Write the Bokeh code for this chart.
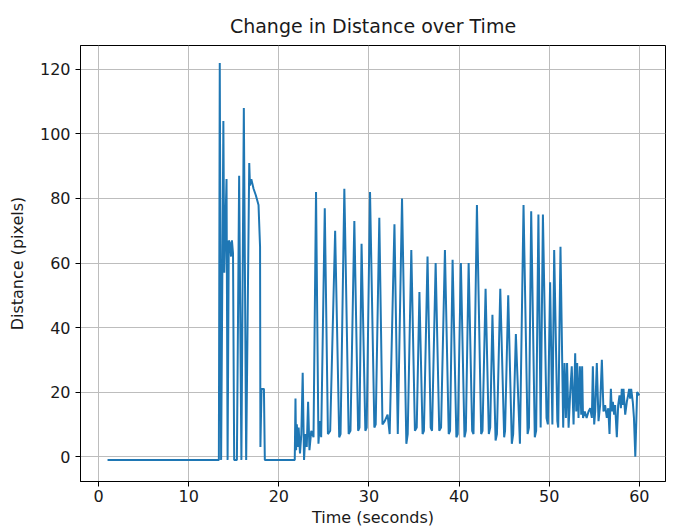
from bokeh.plotting import figure
from bokeh.models import Range1d, FixedTicker
from bokeh.embed import file_html
from bokeh.resources import INLINE

# Frame-to-frame change in tracked distance (pixels) against elapsed time (seconds)
time_s = [
    1.0, 13.35, 13.45, 13.6, 13.85, 13.95, 14.2, 14.32, 14.45, 14.6,
    14.7, 14.8, 14.92, 15.05, 15.35, 15.6, 15.85, 16.12, 16.38, 16.72,
    16.8, 16.95, 17.2, 17.45, 17.75, 17.92, 17.96, 18.08, 18.35, 18.45,
    21.77, 21.85, 21.92, 22.0, 22.1, 22.2, 22.35, 22.5, 22.65, 22.8,
    22.95, 23.1, 23.25, 23.4, 23.6, 23.85, 24.13, 24.4, 24.55, 24.7,
    25.1, 25.45, 25.7, 26.25, 26.7, 26.85, 27.27, 27.35, 27.75, 27.95,
    28.38, 28.8, 28.95, 29.18, 29.6, 29.75, 30.12, 30.6, 30.75, 31.15,
    31.5, 31.75, 32.07, 32.3, 32.83, 33.2, 33.67, 34.15, 34.3, 34.7,
    35.1, 35.3, 35.6, 35.95, 36.1, 36.5, 36.85, 37.0, 37.4, 37.8,
    38.0, 38.43, 38.85, 39.0, 39.28, 39.7, 39.85, 40.2, 40.6, 40.75,
    41.06, 41.45, 41.6, 41.98, 42.45, 42.6, 42.94, 43.3, 43.45, 43.7,
    44.05, 44.2, 44.57, 45.0, 45.1, 45.45, 45.85, 46.0, 46.3, 46.75,
    47.15, 47.6, 47.75, 48.0, 48.4, 48.55, 48.8, 49.05, 49.3, 49.7,
    49.85, 50.1, 50.35, 50.55, 50.9, 51.0, 51.25, 51.55, 51.7, 51.85,
    51.98, 52.15, 52.33, 52.5, 52.7, 52.88, 53.0, 53.1, 53.25, 53.4,
    53.55, 53.65, 53.75, 53.95, 54.15, 54.36, 54.55, 54.73, 54.84, 54.99,
    55.1, 55.28, 55.47, 55.65, 55.84, 56.02, 56.2, 56.39, 56.55, 56.69,
    56.84, 56.95, 57.06, 57.2, 57.31, 57.5, 57.65, 57.8, 57.95, 58.05,
    58.15, 58.24, 58.43, 58.61, 58.75, 58.87, 58.98, 59.09, 59.27, 59.4,
    59.55, 59.75, 60.0,
]

distance_px = [
    -1, -1, 122, -1, 104, 57, 86, -1, 67, 66,
    62, 67, 63, -1, -1, 87, -1, 108, -1, 91,
    84, 86, 83, 81, 78, 65, 3, 21, 21, -1,
    -1, 18, 2, 10, 3, 9, 1, 7, 26, -1,
    7, 3, 17, 2, 8, 6, 82, 4, 11, 6,
    77, 7, 8, 70, 6, 7, 83, 71, 7, 8,
    73, 8, 9, 66, 8, 9, 82, 9, 10, 74,
    10, 11, 13, 7, 72, 7, 80, 4, 7, 64,
    8, 9, 51, 7, 8, 62, 9, 8, 60, 8,
    9, 64, 7, 8, 61, 6, 7, 60, 6, 8,
    60, 8, 7, 78, 7, 8, 52, 7, 9, 44,
    5, 7, 52, 6, 8, 50, 4, 7, 38, 4,
    78, 7, 9, 76, 6, 8, 75, 9, 75, 12,
    10, 54, 10, 64, 11, 9, 65, 9, 29, 12,
    29, 9, 20, 28, 10, 32, 14, 29, 12, 28,
    13, 28, 12, 14, 12, 14, 15, 12, 28, 10,
    14, 29, 11, 16, 30, 14, 16, 12, 15, 7,
    21, 14, 17, 13, 16, 6, 16, 19, 15, 21,
    16, 21, 13, 17, 19, 21, 18, 21, 17, 12,
    0, 20, 19,
]

x_ticks = [0, 10, 20, 30, 40, 50, 60]
y_ticks = [0, 20, 40, 60, 80, 100, 120]

FONT = "DejaVu Sans"
TEXT = "#1a1a1a"

p = figure(
    width=677,
    height=529,
    output_backend="svg",
    toolbar_location=None,
    title="Change in Distance over Time",
    x_range=Range1d(-2.0, 62.9),
    y_range=Range1d(-7.7, 127.4),
    min_border_left=80,
    min_border_right=12,
    min_border_top=45,
    min_border_bottom=48,
)

p.line(time_s, distance_px, line_color="#1f77b4", line_width=2)

# title
p.title.align = "center"
p.title.text_font = FONT
p.title.text_font_size = "19px"
p.title.text_font_style = "normal"
p.title.text_color = TEXT
p.title.standoff = 18

# frame and grid
p.outline_line_color = "black"
p.outline_line_width = 1
p.outline_line_alpha = 1
p.background_fill_color = "white"
p.border_fill_color = "white"
p.grid.grid_line_color = "#bdbdbd"
p.grid.grid_line_width = 1

p.xaxis.ticker = FixedTicker(ticks=x_ticks)
p.yaxis.ticker = FixedTicker(ticks=y_ticks)
p.xaxis.axis_label = "Time (seconds)"
p.yaxis.axis_label = "Distance (pixels)"

for ax in (p.xaxis, p.yaxis):
    ax.axis_line_color = "black"
    ax.major_tick_line_color = "black"
    ax.major_tick_in = 0
    ax.major_tick_out = 5
    ax.minor_tick_line_color = None
    ax.major_label_text_font = FONT
    ax.major_label_text_font_size = "16px"
    ax.major_label_text_color = TEXT
    ax.axis_label_text_font = FONT
    ax.axis_label_text_font_size = "16px"
    ax.axis_label_text_font_style = "normal"
    ax.axis_label_text_color = TEXT

p.xaxis.major_label_standoff = 3
p.xaxis.axis_label_standoff = 3
p.yaxis.major_label_standoff = 5
p.yaxis.axis_label_standoff = 10

open("out.html", "w").write(file_html(p, INLINE))
